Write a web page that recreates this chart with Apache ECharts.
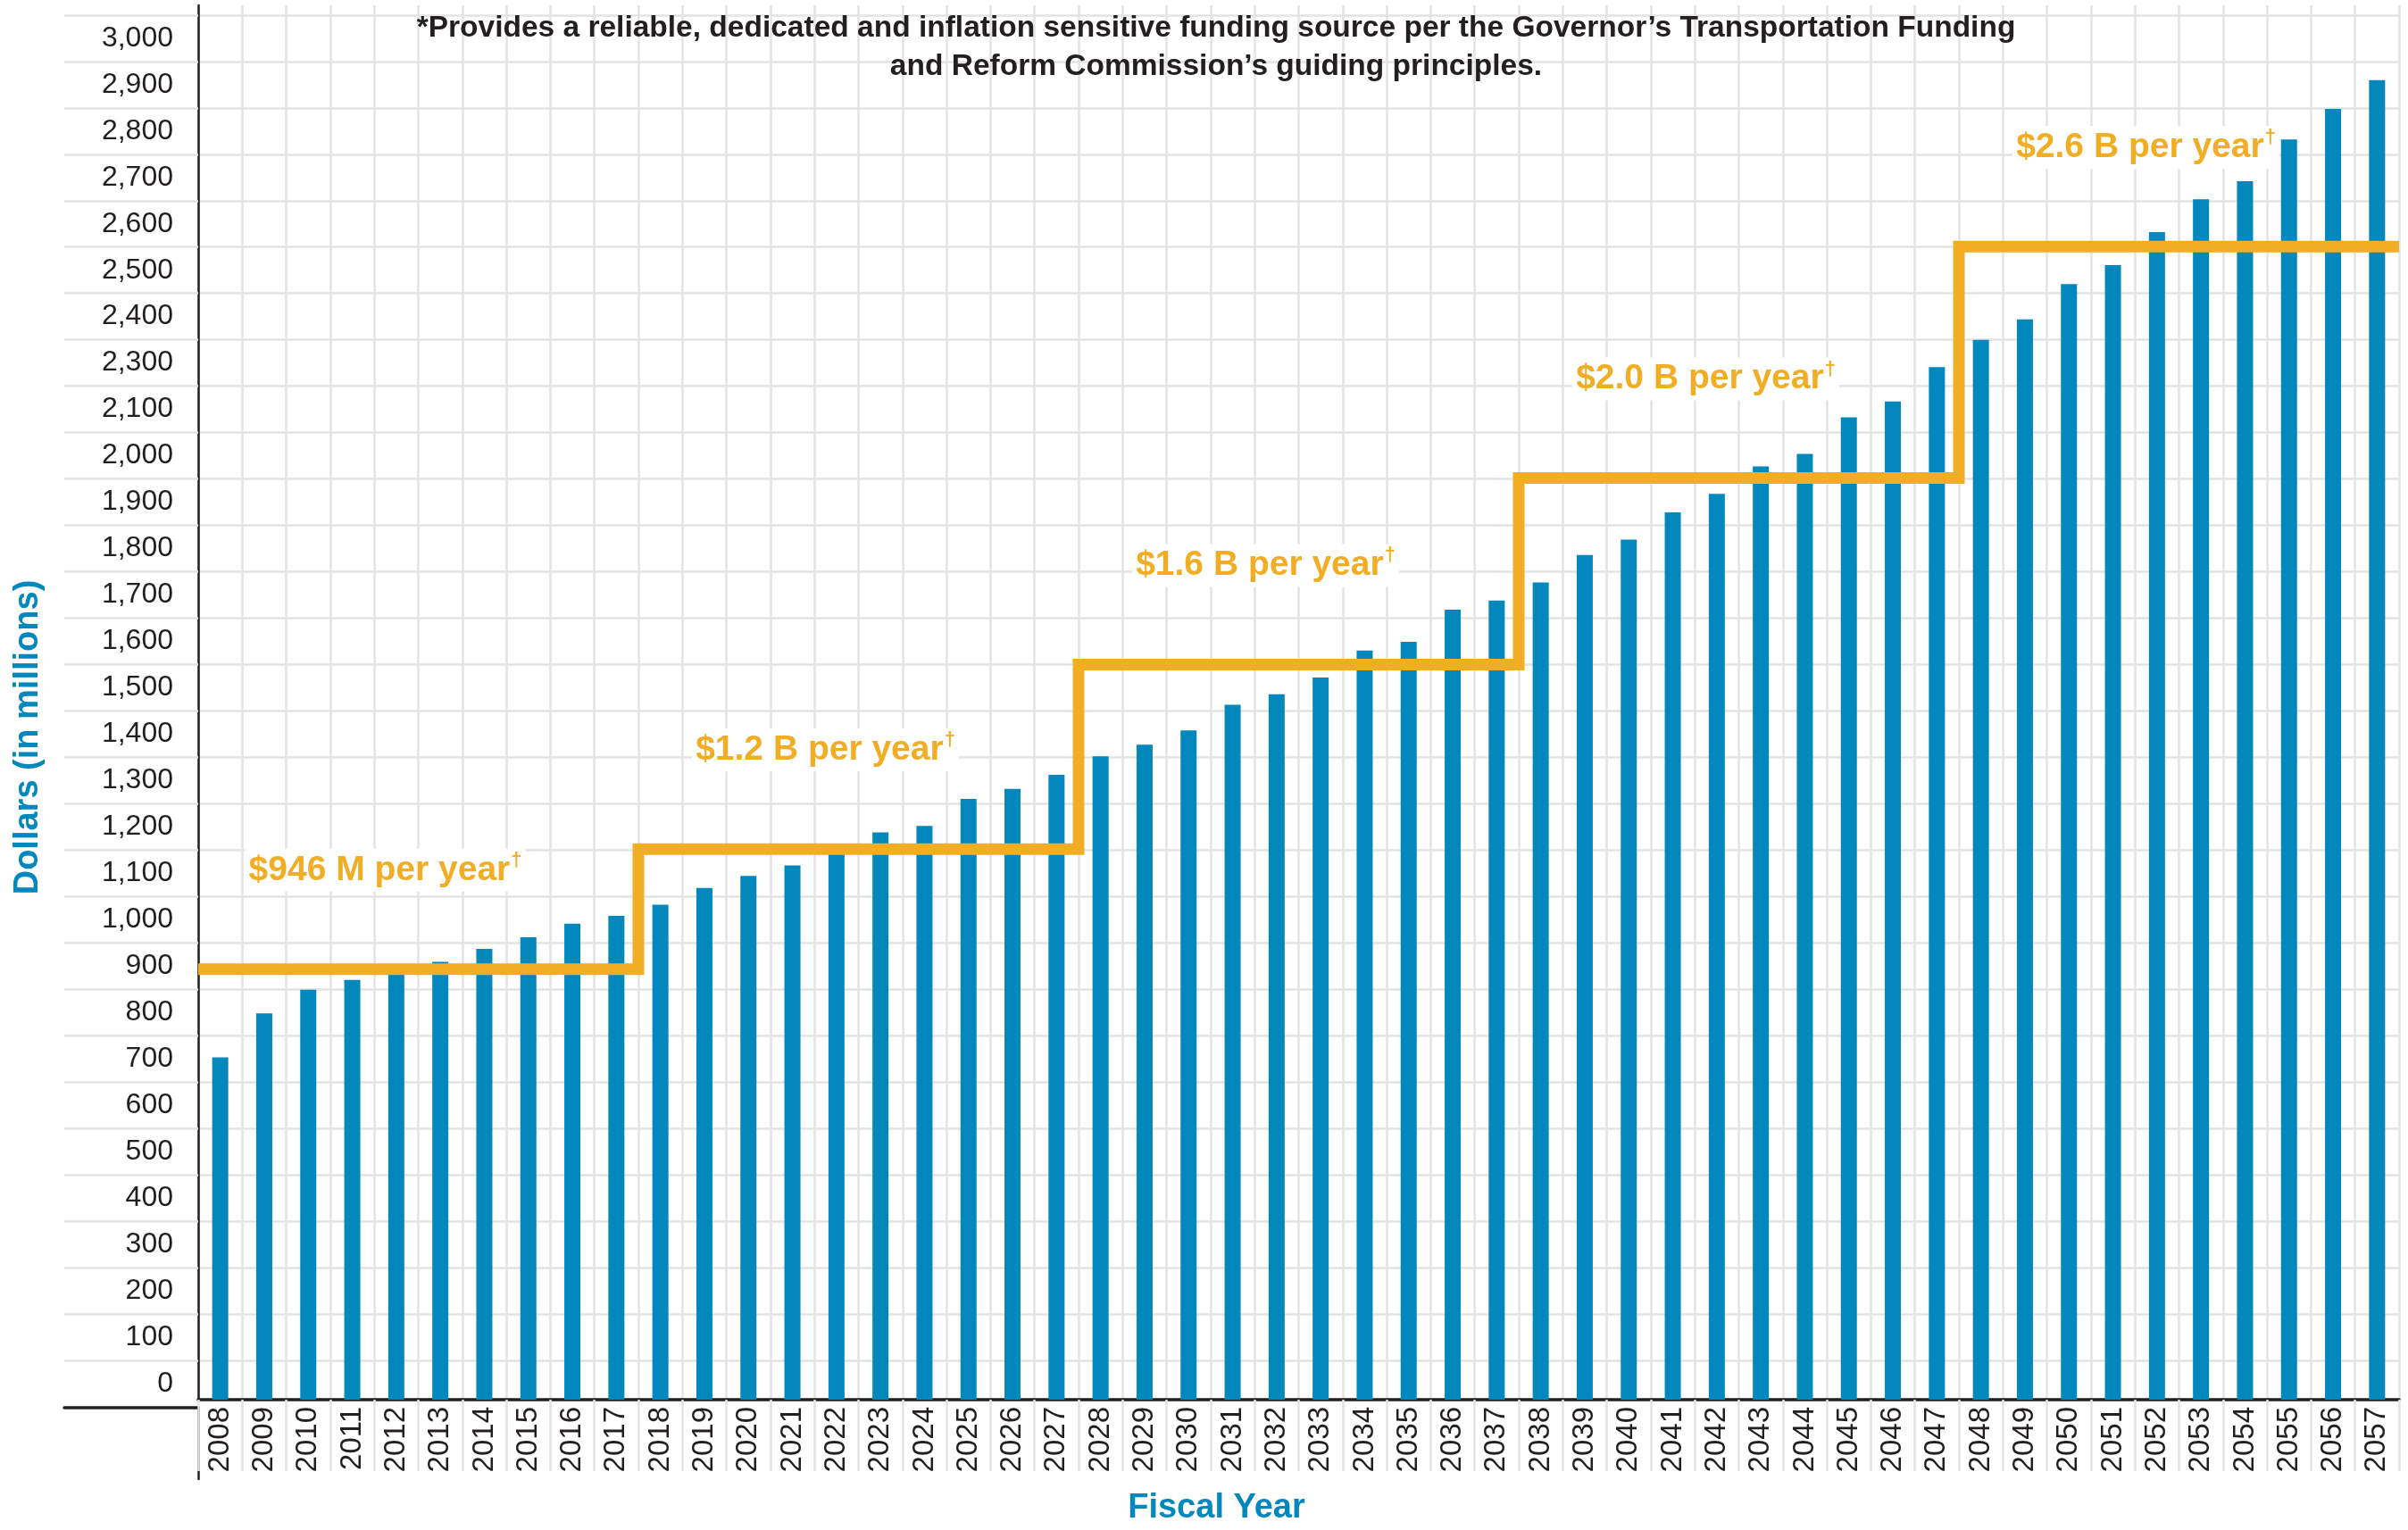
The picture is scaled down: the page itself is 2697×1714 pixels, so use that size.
<!DOCTYPE html>
<html>
<head>
<meta charset="utf-8">
<title>Funding by fiscal year</title>
<script src="https://cdn.jsdelivr.net/npm/echarts@6/dist/echarts.min.js"></script>
<style>
  html, body { margin: 0; padding: 0; background: #fff; }
  #main { width: 2697px; height: 1714px; }
</style>
</head>
<body>
<div id="main"></div>
<script>
// fiscal years on the x axis
var fiscalYears = [
  '2008', '2009', '2010', '2011', '2012', '2013', '2014', '2015', '2016', '2017',
  '2018', '2019', '2020', '2021', '2022', '2023', '2024', '2025', '2026', '2027',
  '2028', '2029', '2030', '2031', '2032', '2033', '2034', '2035', '2036', '2037',
  '2038', '2039', '2040', '2041', '2042', '2043', '2044', '2045', '2046', '2047',
  '2048', '2049', '2050', '2051', '2052', '2053', '2054', '2055', '2056', '2057'
];

// bar heights, dollars in millions
var fundingValues = [
  738, 833, 884, 905, 925, 944, 972, 997, 1026, 1043,
  1067, 1103, 1129, 1152, 1188, 1223, 1237, 1295, 1317, 1347,
  1387, 1412, 1443, 1498, 1521, 1557, 1615, 1634, 1703, 1723,
  1762, 1821, 1854, 1913, 1953, 2012, 2039, 2118, 2152, 2226,
  2285, 2329, 2405, 2446, 2517, 2588, 2627, 2717, 2783, 2845
];

// fixed payment steps: where each one starts (boundary between years) and its level
var stepStarts = [2007.5, 2017.5, 2027.5, 2037.5, 2047.5];
var stepEnd = 2057.5;
var stepLevels = [928, 1187, 1585, 1987, 2486];
var stepLabels = ['$946 M per year', '$1.2 B per year', '$1.6 B per year', '$2.0 B per year', '$2.6 B per year'];

// y tick labels as printed on the chart (there is no 2,200)
var yTickLabels = [
  '0', '100', '200', '300', '400', '500', '600', '700', '800', '900',
  '1,000', '1,100', '1,200', '1,300', '1,400', '1,500', '1,600', '1,700', '1,800', '1,900',
  '2,000', '2,100', '2,300', '2,400', '2,500', '2,600', '2,700', '2,800', '2,900', '3,000'
];

var FONT = '"Liberation Sans", Arial, Helvetica, sans-serif';
var DARK = '#231f20';
var BLUE = '#0288bd';
var GOLD = '#f1ae25';
var GRIDC = '#e3e3e3';

var TOP = 6, BOTTOM = 137, LEFT = 222, RIGHT = 10;
var Y_MAX = 3006;
var LABEL_OFFSET = 35, GRID_OFFSET = 85;

var labelValues = yTickLabels.map(function (t, i) { return LABEL_OFFSET + 100 * i; });
var gridValues = yTickLabels.map(function (t, i) { return GRID_OFFSET + 100 * i; });

var stepPoints = stepStarts.map(function (x, i) { return [x, stepLevels[i]]; });
stepPoints.push([stepEnd, stepLevels[stepLevels.length - 1]]);

var chart = echarts.init(document.getElementById('main'));

var option = {
  animation: false,
  backgroundColor: '#fff',
  textStyle: { fontFamily: FONT },
  title: {
    text: '*Provides a reliable, dedicated and inflation sensitive funding source per the Governor\u2019s Transportation Funding\nand Reform Commission\u2019s guiding principles.',
    left: 1362,
    top: 10,
    padding: 0,
    textAlign: 'center',
    textStyle: {
      fontFamily: FONT,
      fontSize: 33.5,
      fontWeight: 'bold',
      lineHeight: 43,
      color: DARK
    }
  },
  grid: [
    { left: LEFT, right: RIGHT, top: TOP, bottom: BOTTOM },
    // baseline running under the y labels
    { left: 72, width: LEFT - 72, top: TOP, bottom: BOTTOM },
    // y axis line running down through the year labels
    { left: LEFT, width: 10, top: 1714 - BOTTOM, height: 80 }
  ],
  xAxis: [
    {
      type: 'category',
      gridIndex: 0,
      data: fiscalYears,
      axisLine: { lineStyle: { color: DARK, width: 3.5 } },
      axisTick: { show: true, length: 80, lineStyle: { color: GRIDC, width: 2.5 } },
      axisLabel: { rotate: 90, interval: 0, fontSize: 33, color: DARK, margin: 8, fontFamily: FONT },
      splitLine: { show: true, interval: 0, lineStyle: { color: GRIDC, width: 2.5 } },
      name: 'Fiscal Year',
      nameLocation: 'middle',
      nameGap: 103,
      nameTextStyle: {
        fontFamily: FONT, fontSize: 38, fontWeight: 'bold', color: BLUE,
        padding: [0, 184, 0, 0]
      }
    },
    { type: 'value', gridIndex: 0, min: 2007.5, max: 2057.5, show: false },
    {
      type: 'value', gridIndex: 1, min: 0, max: 1,
      axisLine: { show: true, lineStyle: { color: DARK, width: 3.5 } },
      axisTick: { show: false }, axisLabel: { show: false }, splitLine: { show: false }
    },
    { type: 'value', gridIndex: 2, min: 0, max: 1, show: false }
  ],
  yAxis: [
    {
      type: 'value',
      gridIndex: 0,
      min: 0,
      max: Y_MAX,
      axisLine: { show: true, lineStyle: { color: DARK, width: 2.5 } },
      axisTick: { show: true, length: 150, customValues: gridValues, lineStyle: { color: GRIDC, width: 2.5 } },
      axisLabel: {
        customValues: labelValues,
        formatter: function (v) { return yTickLabels[Math.round((v - LABEL_OFFSET) / 100)]; },
        fontSize: 32, color: DARK, margin: 28, fontFamily: FONT
      },
      splitLine: { show: true, lineStyle: { color: GRIDC, width: 2.5 } },
      name: 'Dollars (in millions)',
      nameLocation: 'middle',
      nameRotate: 90,
      nameGap: 171,
      nameTextStyle: {
        fontFamily: FONT, fontSize: 38, fontWeight: 'bold', color: BLUE,
        padding: [0, 78, 0, 0]
      }
    },
    { type: 'value', gridIndex: 1, min: 0, max: Y_MAX, show: false },
    {
      type: 'value', gridIndex: 2, min: 0, max: 1,
      axisLine: { show: true, lineStyle: { color: DARK, width: 2.5 } },
      axisTick: { show: false }, axisLabel: { show: false }, splitLine: { show: false }
    }
  ],
  series: [
    {
      name: 'Funding',
      type: 'bar',
      xAxisIndex: 0,
      yAxisIndex: 0,
      data: fundingValues,
      barWidth: 18,
      itemStyle: { color: BLUE },
      z: 2
    },
    {
      name: 'Fixed payment',
      type: 'line',
      xAxisIndex: 1,
      yAxisIndex: 0,
      step: 'end',
      symbol: 'none',
      data: stepPoints,
      lineStyle: { color: GOLD, width: 13, cap: 'butt', join: 'miter' },
      z: 3,
      markPoint: {
        symbol: 'circle',
        symbolSize: 1,
        itemStyle: { color: 'rgba(0,0,0,0)' },
        label: {
          show: true,
          position: 'inside',
          offset: [0, -111],
          backgroundColor: '#fff',
          padding: [2, 4, 2, 4],
          formatter: function (p) { return '{t|' + p.name + '}{d|\u2020}'; },
          rich: {
            t: { fontFamily: FONT, fontSize: 39, fontWeight: 'bold', color: GOLD, lineHeight: 44 },
            d: { fontFamily: FONT, fontSize: 22, fontWeight: 'bold', color: GOLD, verticalAlign: 'top', lineHeight: 44, padding: [0, 0, 16, 1] }
          }
        },
        data: stepLabels.map(function (t, i) {
          return { name: t, coord: [stepStarts[i] + 4.25, stepLevels[i]] };
        })
      }
    }
  ]
};

chart.setOption(option);
</script>
</body>
</html>
